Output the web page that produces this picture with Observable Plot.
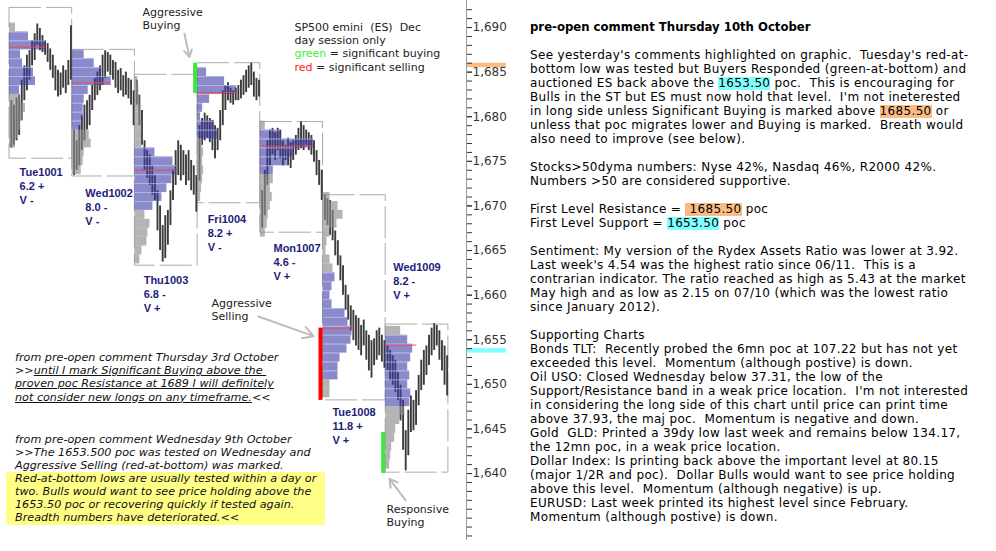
<!DOCTYPE html>
<html>
<head>
<meta charset="utf-8">
<script src="https://cdn.jsdelivr.net/npm/d3@7"></script>
<script src="https://cdn.jsdelivr.net/npm/@observablehq/plot@0.6"></script>
<style>
html,body{margin:0;padding:0;background:#fff;}
#wrap{position:relative;width:996px;height:551px;overflow:hidden;background:#fff;}
#wrap svg{position:absolute;left:0;top:0;}
.panel{position:absolute;left:530px;top:19.6px;font-family:"DejaVu Sans";font-size:12px;letter-spacing:0.34px;line-height:14px;white-space:pre;color:#000;}
.panel .pl{height:14px;}
.panel b{font-size:11.7px;letter-spacing:0;}
.hc,.ho{display:inline-block;height:13px;line-height:13px;vertical-align:baseline;}
.hc{background:#80ffff;}
.ho{background:#fbbc84;}
.note{position:absolute;left:6px;font-family:"DejaVu Sans";font-style:italic;font-size:11.2px;line-height:13.1px;white-space:pre;color:#111;}
.note .ln{padding-left:9px;height:13.1px;}
.note u{text-decoration:underline;}
.yl{background:#ffff88;width:319px;}
</style>
</head>
<body>
<div id="wrap"></div>
<script>
// ---------------- DATA ----------------
const days = ["Tue1001","Wed1002","Thu1003","Fri1004","Mon1007","Tue1008","Wed1009"];
const dayRange = ["6.2 +","8.0 -","6.8 -","8.2 +","4.6 -","11.8 +","8.2 -"];
const dayValue = ["V -","V -","V +","V -","V +","V +","V +"];
const boxHigh = [1692.2,1687.5,1684.7,1686.0,1679.4,1671.2,1656.7];
const boxLow  = [1675.3,1673.3,1663.3,1670.3,1667.0,1648.2,1640.1];
const pocPrice  = [1687.8,1683.8,1674.0,1682.7,1676.7,1656.3,1654.4];
const pocVolume = [36,39,42,39,53,33,31];
const profileTop = [1690,1687,1684,1685,1679,1671,1656];
const valueAreaHigh = [1689,1687,1676,1685,1678,1662,1655];
const valueAreaLow  = [1683,1679,1670,1678,1674,1651,1648];
const profileVolume = [
  [6,19,36,11,13,24,26,10,11,16,14,11,8,6],
  [12,22,29,39,16,12,11,11,9,17,19,12,11,9],
  [3,4,5,6,6,7,7,7,20,38,42,37,32,27,18,10,15,13,12,7,5],
  [9,27,39,12,5,3,17,20,5,6,5,6,5,4,3],
  [5,20,53,33,27,13,13,10,12,10,8,7,5],
  [7,15,20,14,7,4,3,7,10,12,9,7,9,22,25,29,28,24,17,15,15,7,7],
  [15,22,27,25,22,24,22,25,24,19,14,10,9,6,5,4]
];
const signalDay  = [3,5,6];
const signalHigh = [1686.0,1656.3,1644.6];
const signalLow  = [1682.6,1648.2,1640.0];
const signalType = ["buying","selling","buying"];
const levelPrice = [1685.5,1653.5];
const levelType  = ["resistance","support"];
const majorTicks = [1640,1645,1650,1655,1660,1665,1670,1675,1680,1685,1690];
const minorTicks = d3.range(1633,1693,1);
const priceBars = [
  [[1681.8,1676.5],[1681.3,1676.8],[1682.1,1677.3],[1682.4,1677.9],[1684.1,1679.6],[1685.7,1681.8],[1686.9,1682.9],[1687.4,1684.1],[1688.5,1685.7],[1689.3,1686.3],[1690.4,1688.0],[1689.9,1687.4],[1689.1,1687.2],[1688.5,1686.9],[1688.2,1686.1],[1687.6,1685.2],[1686.9,1684.3],[1685.7,1682.9],[1685.2,1682.2],[1684.9,1682.4],[1685.7,1683.2],[1685.2,1682.6],[1686.3,1683.5],[1690.2,1684.1]],
  [[1678.5,1673.4],[1677.3,1674.0],[1679.0,1674.5],[1680.1,1676.2],[1681.3,1677.3],[1681.8,1678.5],[1682.4,1679.0],[1683.5,1680.7],[1684.3,1681.8],[1685.0,1682.4],[1685.7,1682.9],[1686.9,1683.5],[1687.4,1684.3],[1687.2,1685.0],[1686.9,1684.6],[1686.3,1684.1],[1686.1,1683.2],[1685.2,1682.6],[1685.4,1682.9],[1684.6,1682.2],[1685.0,1682.4],[1684.3,1682.0],[1684.1,1681.3],[1682.9,1679.0]],
  [[1684.1,1681.3],[1682.4,1679.0],[1680.7,1676.8],[1677.3,1674.0],[1676.2,1673.1],[1675.7,1672.3],[1674.5,1671.2],[1673.4,1670.6],[1671.7,1667.2],[1670.0,1665.0],[1667.8,1663.7],[1668.9,1664.1],[1669.5,1665.6],[1671.7,1667.8],[1674.0,1670.6],[1676.2,1672.3],[1677.3,1673.4],[1676.8,1672.8],[1676.2,1673.4],[1675.7,1672.3],[1676.2,1672.8],[1675.1,1671.7],[1674.5,1671.2],[1673.4,1669.3]],
  [[1679.0,1672.8],[1679.8,1676.8],[1680.4,1677.3],[1680.1,1677.6],[1679.8,1677.1],[1679.6,1676.2],[1679.0,1675.3],[1678.7,1676.2],[1680.7,1677.3],[1682.9,1679.0],[1683.5,1680.7],[1683.8,1681.8],[1683.2,1681.5],[1682.9,1681.3],[1683.2,1681.8],[1683.5,1681.8],[1684.1,1682.0],[1684.6,1682.4],[1685.2,1682.7],[1685.7,1683.2],[1686.0,1683.5],[1685.0,1682.2],[1684.3,1681.8],[1684.1,1682.2]],
  [[1671.7,1667.5],[1674.0,1668.9],[1677.3,1672.3],[1678.5,1674.5],[1678.7,1675.7],[1678.2,1675.1],[1678.7,1676.2],[1678.5,1675.3],[1677.3,1674.5],[1676.8,1675.1],[1677.6,1674.5],[1677.1,1674.2],[1677.3,1675.1],[1677.9,1675.7],[1678.7,1676.2],[1679.4,1676.4],[1679.0,1676.2],[1678.5,1676.8],[1678.2,1676.2],[1677.9,1675.7],[1677.3,1674.9],[1676.2,1673.4],[1675.1,1672.3],[1674.0,1670.6]],
  [[1671.2,1668.4],[1670.8,1667.8],[1670.6,1666.7],[1669.5,1666.1],[1667.2,1664.4],[1666.1,1663.3],[1664.4,1661.6],[1663.3,1660.0],[1661.1,1658.3],[1660.0,1657.2],[1658.8,1656.0],[1658.3,1654.9],[1657.7,1654.3],[1657.4,1653.8],[1656.6,1653.2],[1657.2,1654.3],[1656.0,1652.7],[1655.5,1651.5],[1654.9,1650.7],[1655.1,1652.1],[1656.0,1652.7],[1656.3,1653.2],[1655.5,1652.5],[1654.9,1651.8]],
  [[1654.3,1651.5],[1653.8,1650.4],[1653.2,1649.9],[1652.7,1649.1],[1651.3,1648.2],[1649.9,1645.9],[1648.2,1642.6],[1644.8,1640.3],[1647.1,1642.0],[1648.7,1644.6],[1648.2,1644.8],[1649.3,1645.4],[1651.0,1647.6],[1652.7,1649.3],[1653.8,1649.9],[1654.3,1651.0],[1655.5,1652.1],[1656.3,1653.2],[1656.8,1653.8],[1656.6,1654.3],[1656.0,1652.7],[1654.9,1651.5],[1654.3,1649.9],[1653.2,1648.7]]
];
const legendLines = ["SP500 emini\u00a0 (ES)\u00a0 Dec","day session only"];
const notes = ["Aggressive\nBuying","Aggressive\nSelling","Responsive\nBuying"];

// ---------------- LAYOUT ----------------
const L = {width:996,height:551,firstDayPx:9,dayPx:62.7,axisPx:466,yTop:1693.03,yBottom:1631.26};
const X0 = -L.firstDayPx/L.dayPx, X1 = (L.axisPx-L.firstDayPx)/L.dayPx;
const px = v => v/L.dayPx;
const labelOffset = [0.16,0.21,0.14,0.16,0.21,0.15,0.12];
const labelBase = [1670.27,1667.91,1658.16,1665.0,1661.75,1643.36,1659.62];
const notePos = [[2.121,1689.89],[3.222,1657.26],[6.013,1634.17]];
const legendX = 4.545, legendBase = [1689.66,1688.17,1686.67,1685.18];
const arrows = [
  {x1:2.79,y1:1689.3,x2:2.87,y2:1686.7},
  {x1:3.97,y1:1657.6,x2:4.85,y2:1655.4},
  {x1:6.32,y1:1637.0,x2:6.06,y2:1639.4}
];

// ---------------- BUILD ----------------
const boxRows = days.map((d,i)=>({day:i,high:boxHigh[i],low:boxLow[i]}));
const barRows = [];
priceBars.forEach((arr,d)=>arr.forEach(([hi,lo],i)=>barRows.push({x:d+0.03+i*(0.95/(arr.length-1)),hi,lo})));
const profRows = [];
profileVolume.forEach((vols,d)=>vols.forEach((v,i)=>{
  const p = profileTop[d]-i;
  profRows.push({day:d,price:p,vol:v,va:p<=valueAreaHigh[d]&&p>=valueAreaLow[d]});
}));
const pocRows = days.map((d,i)=>({day:i,price:pocPrice[i],vol:pocVolume[i]}));
const sigRows = signalDay.map((d,i)=>({day:d,hi:signalHigh[i],lo:signalLow[i],type:signalType[i]}));
const levelRows = levelPrice.map((p,i)=>({price:p,type:levelType[i]}));
const labelRows = days.map((d,i)=>({x:i+labelOffset[i],y:labelBase[i],text:`${d}\n${dayRange[i]}\n${dayValue[i]}`}));
const noteRows = notes.map((n,i)=>({x:notePos[i][0],y:notePos[i][1],text:n}));

const ctx = document.createElement("canvas").getContext("2d");
ctx.font = "11px 'DejaVu Sans'";
const wGreen = ctx.measureText("green ").width;
const wRed = ctx.measureText("red ").width;

const txt = {fontFamily:"DejaVu Sans",fontSize:11,textAnchor:"start",lineAnchor:"bottom"};

const svg = Plot.plot({
  width:L.width,height:L.height,
  marginTop:0,marginBottom:0,marginLeft:0,marginRight:L.width-L.axisPx,
  x:{domain:[X0,X1],axis:null},
  y:{domain:[L.yBottom,L.yTop],label:null},
  style:{fontFamily:"DejaVu Sans",fontSize:"12px",color:"#333",background:"transparent",overflow:"visible"},
  marks:[
    Plot.rect(boxRows,{x1:"day",x2:d=>d.day+1,y1:"low",y2:"high",fill:"none",stroke:"#aaa",strokeWidth:1,strokeDasharray:"32,5"}),
    Plot.ruleX(barRows,{x:"x",y1:"lo",y2:"hi",stroke:"#3c3c3c",strokeWidth:1.9}),
    Plot.rect(profRows.filter(r=>r.va),{x1:"day",x2:r=>r.day+px(r.vol),y1:r=>r.price-0.5,y2:r=>r.price+0.5,fill:"#3c3ca8",fillOpacity:0.6}),
    Plot.rect(profRows.filter(r=>!r.va),{x1:"day",x2:r=>r.day+px(r.vol),y1:r=>r.price-0.5,y2:r=>r.price+0.5,fill:"#8c8c8c",fillOpacity:0.65}),
    Plot.ruleY(profRows.filter(r=>r.va),{y:r=>r.price+0.5,x1:"day",x2:r=>r.day+px(r.vol),stroke:"#c4c4f4",strokeOpacity:0.7,strokeWidth:1}),
    Plot.ruleY(pocRows,{y:"price",x1:"day",x2:r=>r.day+px(r.vol),stroke:"#f04848",strokeWidth:1}),
    Plot.rect(sigRows,{x1:r=>r.day-px(4),x2:"day",y1:"lo",y2:"hi",fill:r=>r.type==="buying"?"#3ee63e":"#ff0000"}),
    Plot.rect(levelRows,{x1:X1,x2:X1+px(40),y1:"price",y2:r=>r.price+0.5,fill:r=>r.type==="resistance"?"#fbbc84":"#80ffff"}),
    Plot.ruleX([X1],{y1:1632.5,y2:L.yTop,stroke:"#999",strokeWidth:1}),
    Plot.axisY(minorTicks,{anchor:"right",tickSize:5,tickFormat:()=>"",label:null}),
    Plot.axisY(majorTicks,{anchor:"right",tickSize:5,tickPadding:1,tickFormat:",",fontSize:12,label:null}),
    Plot.text(labelRows,{x:"x",y:"y",text:"text",fontFamily:"Liberation Sans",fontSize:11,fontWeight:"bold",fill:"#1d1d7a",textAnchor:"start",lineAnchor:"bottom",lineHeight:1.27}),
    Plot.text(noteRows,{...txt,x:"x",y:"y",text:"text",fill:"#222",lineHeight:1.17}),
    Plot.text(legendLines,{...txt,x:legendX,y:(d,i)=>legendBase[i],text:d=>d,fill:"#222"}),
    Plot.text(["green"],{...txt,x:legendX,y:legendBase[2],text:d=>d,fill:"#3cf03c"}),
    Plot.text(["= significant buying"],{...txt,x:legendX,y:legendBase[2],dx:wGreen,text:d=>d,fill:"#222"}),
    Plot.text(["red"],{...txt,x:legendX,y:legendBase[3],text:d=>d,fill:"#ff2020"}),
    Plot.text(["= significant selling"],{...txt,x:legendX,y:legendBase[3],dx:wRed,text:d=>d,fill:"#222"}),
    Plot.arrow(arrows,{x1:"x1",y1:"y1",x2:"x2",y2:"y2",stroke:"#bdbdbd",strokeWidth:2,headLength:9})
  ]
});
const wrap = document.getElementById("wrap");
wrap.appendChild(svg);

// ---------------- TEXT PANELS ----------------
const C = s => `<span class="hc">${s}</span>`, O = s => `<span class="ho">${s}</span>`;
const panelText =
`<b>pre-open comment Thursday 10th October</b>

See yesterday's comments highlighted on graphic.  Tuesday's red-at-
bottom low was tested but Buyers Responded (green-at-bottom) and
auctioned ES back above the ${C("1653.50")} poc.  This is encouraging for
Bulls in the ST but ES must now hold that level.  I'm not ineterested
in long side unless Significant Buying is marked above ${O("1685.50")} or
unless that poc migrates lower and Buying is marked.  Breath would
also need to improve (see below).

Stocks&gt;50dyma numbers: Nyse 42%, Nasdaq 46%, R2000 42%.
Numbers &gt;50 are considered supportive.

First Level Resistance = ${O(" 1685.50")} poc
First Level Support = ${C("1653.50")} poc

Sentiment: My version of the Rydex Assets Ratio was lower at 3.92.
Last week's 4.54 was the highest ratio since 06/11.  This is a
contrarian indicator. The ratio reached as high as 5.43 at the market
May high and as low as 2.15 on 07/10 (which was the lowest ratio
since January 2012).

Supporting Charts
Bonds TLT:  Recently probed the 6mn poc at 107.22 but has not yet
exceeded this level.  Momentum (although postive) is down.
Oil USO: Closed Wednesday below 37.31, the low of the
Support/Resistance band in a weak price location.  I'm not interested
in considering the long side of this chart until price can print time
above 37.93, the maj poc.  Momentum is negative and down.
Gold  GLD: Printed a 39dy low last week and remains below 134.17,
the 12mn poc, in a weak price location.
Dollar Index: Is printing back above the important level at 80.15
(major 1/2R and poc).  Dollar Bulls would want to see price holding
above this level.  Momentum (although negative) is up.
EURUSD: Last week printed its highest level since February.
Momentum (although postive) is down.`;
const panel = document.createElement("div");
panel.className = "panel";
panel.innerHTML = panelText.split("\n").map(l=>`<div class="pl">${l}</div>`).join("");
wrap.appendChild(panel);

const n1 = document.createElement("div");
n1.className = "note"; n1.style.top = "351.3px";
n1.innerHTML =
`<div class="ln">from pre-open comment Thursday 3rd October</div><div class="ln">&gt;&gt;<u>until I mark Significant Buying above the </u></div><div class="ln"><u>proven poc Resistance at 1689 I will definitely</u></div><div class="ln"><u>not consider new longs on any timeframe.</u>&lt;&lt;</div>`;
wrap.appendChild(n1);

const n2 = document.createElement("div");
n2.className = "note"; n2.style.top = "432.9px";
n2.innerHTML =
`<div class="ln">from pre-open comment Wednesday 9th October</div><div class="ln">&gt;&gt;The 1653.500 poc was tested on Wednesday and</div><div class="ln">Aggressive Selling (red-at-bottom) was marked.</div><div class="yl"><div class="ln">Red-at-bottom lows are usually tested within a day or</div><div class="ln">two. Bulls would want to see price holding above the</div><div class="ln">1653.50 poc or recovering quickly if tested again.</div><div class="ln">Breadth numbers have deteriorated.&lt;&lt;</div></div>`;
wrap.appendChild(n2);
</script>
</body>
</html>
